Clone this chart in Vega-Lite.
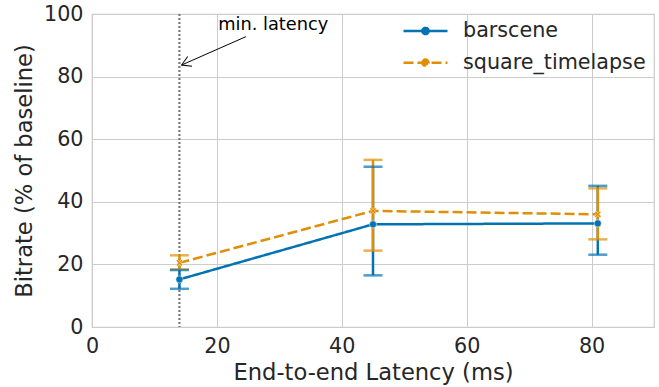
{
  "$schema": "https://vega.github.io/schema/vega-lite/v6.json",
  "width": 562,
  "height": 313,
  "autosize": "none",
  "padding": {"left": 92, "top": 14, "right": 5, "bottom": 60},
  "background": "white",
  "config": {
    "font": "DejaVu Sans",
    "view": {"stroke": "#cccccc", "strokeWidth": 1.25},
    "axis": {
      "grid": true, "gridColor": "#cccccc", "gridWidth": 1, "domain": false, "ticks": false,
      "labelFont": "DejaVu Sans", "labelFontSize": 20.7, "labelColor": "#262626", "labelFlush": false, "labelOverlap": false,
      "titleFont": "DejaVu Sans", "titleFontSize": 22.6, "titleFontWeight": "normal", "titleColor": "#262626"
    }
  },
  "datasets": {
    "main": [
      {"series": "barscene", "latency": 14, "bitrate": 15.2, "lo": 12.2, "hi": 18.2},
      {"series": "barscene", "latency": 45, "bitrate": 32.8, "lo": 16.5, "hi": 51.2},
      {"series": "barscene", "latency": 81, "bitrate": 33.1, "lo": 23.1, "hi": 45.1},
      {"series": "square_timelapse", "latency": 14, "bitrate": 20.5, "lo": 18.4, "hi": 22.9},
      {"series": "square_timelapse", "latency": 45, "bitrate": 37.1, "lo": 24.4, "hi": 53.4},
      {"series": "square_timelapse", "latency": 81, "bitrate": 36.0, "lo": 28.0, "hi": 44.3}
    ],
    "annot": [
      {"label": "min. latency", "minlat": 14, "tx": 20.2, "ty": 94.9, "ax": 24.64, "ay": 92.75, "hx": 14.35, "hy": 83.7}
    ]
  },
  "encoding": {
    "x": {"type": "quantitative", "scale": {"domain": [0, 90], "nice": false, "zero": false},
          "axis": {"title": "End-to-end Latency (ms)", "values": [0, 20, 40, 60, 80], "labelPadding": 9, "titlePadding": 6}},
    "y": {"type": "quantitative", "scale": {"domain": [0, 100], "nice": false},
          "axis": {"title": "Bitrate (% of baseline)", "values": [0, 20, 40, 60, 80, 100], "labelPadding": 9, "titlePadding": 7}}
  },
  "layer": [
    {
      "data": {"name": "annot"},
      "mark": {"type": "rule", "stroke": "#7a7a7a", "strokeWidth": 2.2, "strokeDash": [2, 2]},
      "encoding": {"x": {"field": "minlat", "type": "quantitative"}}
    },
    {
      "data": {"name": "main"},
      "mark": {"type": "rule", "strokeWidth": 2.5},
      "encoding": {
        "x": {"field": "latency", "type": "quantitative"},
        "y": {"field": "lo", "type": "quantitative"},
        "y2": {"field": "hi"},
        "color": {"field": "series", "type": "nominal", "scale": {"domain": ["barscene", "square_timelapse"], "range": ["#0173b2", "#de8f05"]}}
      }
    },
    {
      "data": {"name": "main"},
      "mark": {"type": "tick", "orient": "horizontal", "size": 19, "thickness": 2.5},
      "encoding": {
        "x": {"field": "latency", "type": "quantitative"},
        "y": {"field": "lo", "type": "quantitative"},
        "color": {"field": "series", "type": "nominal"}
      }
    },
    {
      "data": {"name": "main"},
      "mark": {"type": "tick", "orient": "horizontal", "size": 19, "thickness": 2.5},
      "encoding": {
        "x": {"field": "latency", "type": "quantitative"},
        "y": {"field": "hi", "type": "quantitative"},
        "color": {"field": "series", "type": "nominal"}
      }
    },
    {
      "data": {"name": "main"},
      "mark": {"type": "line", "strokeWidth": 2.5},
      "encoding": {
        "x": {"field": "latency", "type": "quantitative"},
        "y": {"field": "bitrate", "type": "quantitative"},
        "color": {"field": "series", "type": "nominal",
          "legend": {
            "title": null, "orient": "none", "legendX": 310, "legendY": 7, "padding": 0,
            "symbolType": "M-1,0L1,0M-0.14,0A0.14,0.14,0,1,1,0.14,0A0.14,0.14,0,1,1,-0.14,0",
            "symbolSize": 1936,
            "symbolStrokeWidth": 2.5,
            "labelFontSize": 20.7, "labelColor": "#262626", "labelFont": "DejaVu Sans", "labelOffset": 14, "labelLimit": 400,
            "clipHeight": 20, "rowPadding": 10.7,
            "encode": {"symbols": {"update": {
              "fill": {"scale": "color", "field": "value"},
              "opacity": {"value": 1}
            }}}
          }},
        "strokeDash": {"field": "series", "type": "nominal",
          "scale": {"domain": ["barscene", "square_timelapse"], "range": [[1, 0], [10, 4]]}}
      }
    },
    {
      "data": {"name": "main"},
      "transform": [{"filter": "datum.series === 'barscene'"}],
      "mark": {"type": "point", "filled": true, "stroke": "white", "strokeWidth": 0.5, "opacity": 1, "shape": "circle", "size": 50},
      "encoding": {
        "x": {"field": "latency", "type": "quantitative"},
        "y": {"field": "bitrate", "type": "quantitative"},
        "color": {"field": "series", "type": "nominal"}
      }
    },
    {
      "data": {"name": "main"},
      "transform": [{"filter": "datum.series === 'square_timelapse'"}],
      "mark": {"type": "point", "filled": true, "stroke": "white", "strokeWidth": 0.5, "opacity": 1, "size": 45,
               "shape": "M-1,-0.6L-0.6,-1L0,-0.4L0.6,-1L1,-0.6L0.4,0L1,0.6L0.6,1L0,0.4L-0.6,1L-1,0.6L-0.4,0Z"},
      "encoding": {
        "x": {"field": "latency", "type": "quantitative"},
        "y": {"field": "bitrate", "type": "quantitative"},
        "color": {"field": "series", "type": "nominal"}
      }
    },
    {
      "data": {"name": "annot"},
      "mark": {"type": "text", "align": "left", "baseline": "alphabetic", "fontSize": 17.8, "color": "black", "font": "DejaVu Sans"},
      "encoding": {
        "x": {"field": "tx", "type": "quantitative"},
        "y": {"field": "ty", "type": "quantitative"},
        "text": {"field": "label"}
      }
    },
    {
      "data": {"name": "annot"},
      "mark": {"type": "rule", "stroke": "black", "strokeWidth": 1},
      "encoding": {
        "x": {"field": "ax", "type": "quantitative"},
        "y": {"field": "ay", "type": "quantitative"},
        "x2": {"field": "hx"},
        "y2": {"field": "hy"}
      }
    },
    {
      "data": {"name": "annot"},
      "mark": {"type": "point", "filled": false, "stroke": "black", "strokeWidth": 1, "opacity": 1,
               "shape": "M-1,-0.6L0,0L-1,0.6", "angle": 156.25, "size": 324},
      "encoding": {
        "x": {"field": "hx", "type": "quantitative"},
        "y": {"field": "hy", "type": "quantitative"}
      }
    }
  ]
}
